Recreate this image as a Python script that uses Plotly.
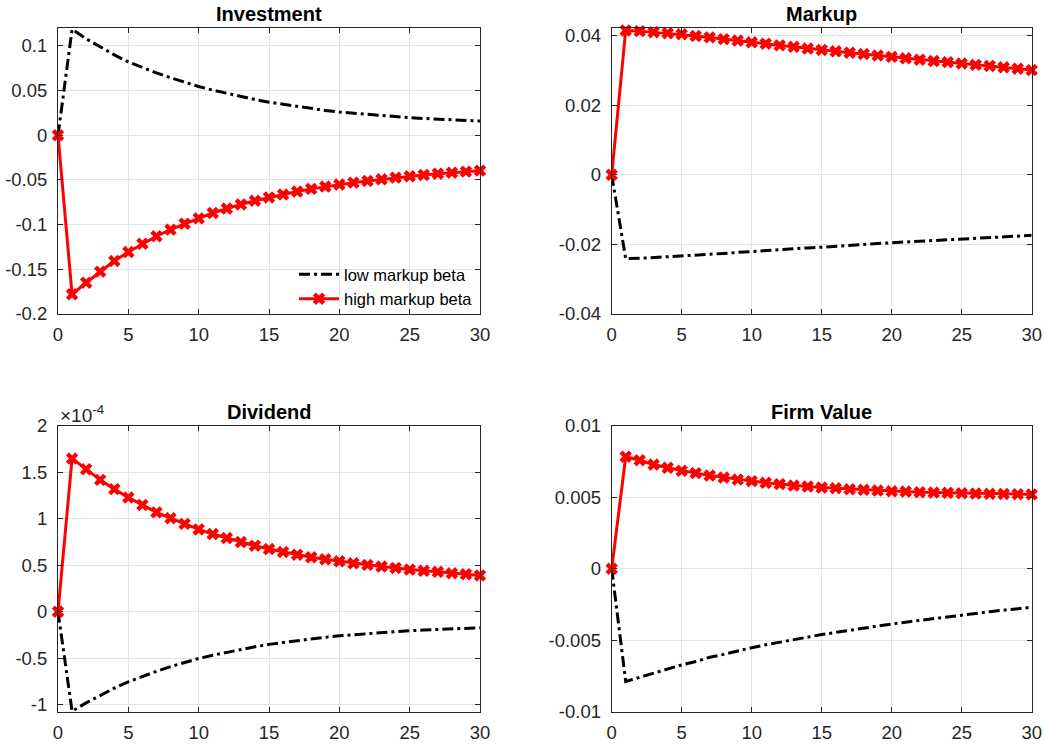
import plotly.graph_objects as go

periods = list(range(31))

investment_low = [0, 0.1185, 0.108, 0.0986, 0.0899, 0.082, 0.0756, 0.0697, 0.0643, 0.0593, 0.0545,
                  0.0505, 0.0468, 0.0433, 0.0400, 0.0370, 0.0345, 0.0320, 0.0298, 0.0278, 0.0260,
                  0.0246, 0.0232, 0.0220, 0.0208, 0.0197, 0.0188, 0.0180, 0.0172, 0.0165, 0.0159]
investment_high = [0, -0.178, -0.165, -0.1526, -0.1407, -0.1307, -0.1215, -0.113, -0.1056, -0.099, -0.093,
                   -0.087, -0.082, -0.0774, -0.0733, -0.0696, -0.0663, -0.063, -0.060, -0.0574, -0.0552,
                   -0.053, -0.0511, -0.0493, -0.0474, -0.0459, -0.0444, -0.043, -0.0419, -0.0407, -0.0396]

markup_low = [0, -0.0241, -0.0240, -0.0238, -0.0236, -0.0233, -0.0231, -0.0228, -0.0226, -0.0223, -0.0220,
              -0.0218, -0.0215, -0.0213, -0.0210, -0.0208, -0.0205, -0.0203, -0.0200, -0.0198, -0.0195,
              -0.0193, -0.0191, -0.0188, -0.0186, -0.0184, -0.0182, -0.0180, -0.0178, -0.0176, -0.0174]
markup_high = [0, 0.0415, 0.0413, 0.0410, 0.0407, 0.0404, 0.0399, 0.0395, 0.0390, 0.0386, 0.0381,
               0.0377, 0.0372, 0.0368, 0.0363, 0.0359, 0.0355, 0.0351, 0.0347, 0.0343, 0.0339,
               0.0335, 0.0331, 0.0327, 0.0324, 0.0320, 0.0316, 0.0313, 0.0309, 0.0305, 0.0301]

# dividend values in units of 1e-4
dividend_low_e4 = [0, -1.072, -0.982, -0.900, -0.824, -0.755, -0.696, -0.642, -0.592, -0.546, -0.504,
                   -0.469, -0.437, -0.407, -0.378, -0.352, -0.331, -0.311, -0.292, -0.275, -0.259,
                   -0.247, -0.236, -0.225, -0.215, -0.205, -0.198, -0.192, -0.185, -0.179, -0.173]
dividend_high_e4 = [0, 1.65, 1.535, 1.42, 1.32, 1.23, 1.15, 1.07, 1.007, 0.946, 0.886,
                    0.836, 0.793, 0.75, 0.711, 0.675, 0.643, 0.614, 0.586, 0.564, 0.543,
                    0.521, 0.504, 0.486, 0.471, 0.454, 0.44, 0.43, 0.414, 0.404, 0.39]

firm_low = [0, -0.0079, -0.0076, -0.0073, -0.0070, -0.00674, -0.0065, -0.0062, -0.0060, -0.00575, -0.00553,
            -0.00533, -0.00514, -0.00496, -0.00478, -0.00461, -0.00446, -0.00430, -0.00415, -0.00401, -0.00387,
            -0.00374, -0.00361, -0.00348, -0.00335, -0.00323, -0.00312, -0.00301, -0.00290, -0.00280, -0.00270]
firm_high = [0, 0.00785, 0.0076, 0.0073, 0.00707, 0.00686, 0.0067, 0.00653, 0.00639, 0.00625, 0.00614,
             0.00602, 0.00593, 0.00583, 0.00576, 0.00569, 0.00564, 0.00557, 0.00553, 0.00548, 0.00543,
             0.00541, 0.00536, 0.00534, 0.00532, 0.00529, 0.00527, 0.00525, 0.00524, 0.00522, 0.00521]

titles = ["Investment", "Markup", "Dividend", "Firm Value"]
series_names = ["low markup beta", "high markup beta"]
x_ticks = [0, 5, 10, 15, 20, 25, 30]
y_ticks = [
    [0.1, 0.05, 0, -0.05, -0.1, -0.15, -0.2],
    [0.04, 0.02, 0, -0.02, -0.04],
    [2, 1.5, 1, 0.5, 0, -0.5, -1],
    [0.01, 0.005, 0, -0.005, -0.01],
]
y_tick_text = [
    ["0.1", "0.05", "0", "-0.05", "-0.1", "-0.15", "-0.2"],
    ["0.04", "0.02", "0", "-0.02", "-0.04"],
    ["2", "1.5", "1", "0.5", "0", "-0.5", "-1"],
    ["0.01", "0.005", "0", "-0.005", "-0.01"],
]
y_ranges = [[-0.2, 0.12], [-0.04, 0.0422], [-1.075, 2.0], [-0.01, 0.01]]

panels = [
    (investment_low, investment_high),
    (markup_low, markup_high),
    (dividend_low_e4, dividend_high_e4),
    (firm_low, firm_high),
]

W, H = 1045, 746
x_domains = [[58 / W, 480 / W], [611.7 / W, 1031.7 / W]]
y_domains = [[1 - 314 / H, 1 - 28 / H], [1 - 711.5 / H, 1 - 426 / H]]

FONT = "Liberation Sans, Arial, Helvetica, sans-serif"
AX = "#262626"
GRID = "#e3e3e3"

fig = go.Figure()
layout = dict(
    width=W, height=H,
    margin=dict(l=0, r=0, t=0, b=0, autoexpand=False),
    paper_bgcolor="white", plot_bgcolor="white",
    font=dict(family=FONT, size=18, color=AX),
    showlegend=True,
    legend=dict(
        x=478 / W, y=1 - 257 / H, xanchor="right", yanchor="top",
        bgcolor="rgba(255,255,255,0)", borderwidth=0,
        font=dict(family=FONT, size=16.5, color="#000000"),
        tracegroupgap=0, itemwidth=40,
    ),
)

annotations = []
for i, (low, high) in enumerate(panels):
    r, c = divmod(i, 2)
    xa = "x" if i == 0 else f"x{i + 1}"
    ya = "y" if i == 0 else f"y{i + 1}"
    fig.add_trace(go.Scatter(
        x=periods, y=low, mode="lines", name=series_names[0],
        line=dict(color="black", width=3, dash="11px,4px,3px,4px"),
        xaxis=xa, yaxis=ya, showlegend=(i == 0), cliponaxis=False,
    ))
    fig.add_trace(go.Scatter(
        x=periods, y=high, mode="lines+markers", name=series_names[1],
        line=dict(color="#ff0000", width=3),
        marker=dict(symbol="x", size=11, color="#ff0000", line=dict(width=0)),
        xaxis=xa, yaxis=ya, showlegend=(i == 0), cliponaxis=False,
    ))
    axis_common = dict(
        showline=True, linecolor=AX, linewidth=1, mirror="ticks",
        ticks="inside", ticklen=5, tickwidth=1, tickcolor=AX,
        showgrid=True, gridcolor=GRID, gridwidth=1, zeroline=False,
        tickfont=dict(family=FONT, size=18.5, color=AX), automargin=False,
    )
    xkey = "xaxis" if i == 0 else f"xaxis{i + 1}"
    ykey = "yaxis" if i == 0 else f"yaxis{i + 1}"
    layout[xkey] = dict(
        domain=x_domains[c], anchor=ya, range=[0, 30],
        tickvals=x_ticks, ticktext=[str(t) for t in x_ticks], ticklabelstandoff=4,
        **axis_common,
    )
    layout[ykey] = dict(
        domain=y_domains[r], anchor=xa, range=y_ranges[i],
        tickvals=y_ticks[i], ticktext=y_tick_text[i], ticklabelstandoff=6,
        **axis_common,
    )
    annotations.append(dict(
        text=f"<b>{titles[i]}</b>", xref="paper", yref="paper",
        x=(x_domains[c][0] + x_domains[c][1]) / 2, y=y_domains[r][1],
        xanchor="center", yanchor="bottom", yshift=1, showarrow=False,
        font=dict(family=FONT, size=20, color="#000000"),
    ))

annotations.append(dict(
    text="×10<sup>-4</sup>", xref="paper", yref="paper",
    x=x_domains[0][0], y=y_domains[1][1], xanchor="left", yanchor="bottom",
    yshift=-2, xshift=0, showarrow=False,
    font=dict(family=FONT, size=19, color=AX),
))
layout["annotations"] = annotations
fig.update_layout(**layout)
fig.write_html(
    "out.html",
    config={"displayModeBar": False},
    post_script="document.body.style.margin='0';document.body.style.overflow='hidden';",
)
